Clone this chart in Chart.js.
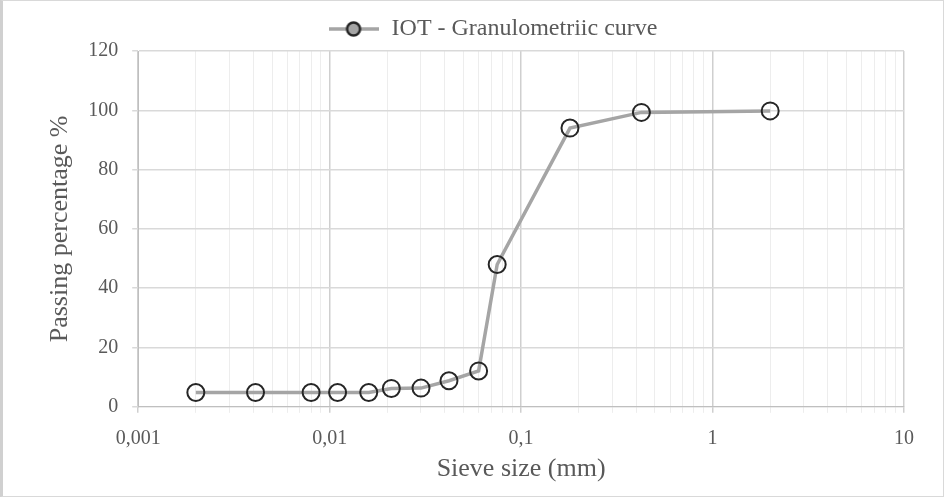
<!DOCTYPE html>
<html>
<head>
<meta charset="utf-8">
<title>IOT - Granulometriic curve</title>
<script src="https://cdn.jsdelivr.net/npm/chart.js@4/dist/chart.umd.min.js"></script>
<style>
  html, body { margin: 0; padding: 0; background: #fff; }
  #wrap {
    position: relative;
    width: 944px;
    height: 497px;
    box-sizing: border-box;
    border: 1px solid #d9d9d9;
    border-left: 3px solid #d0d0d0;
  }
</style>
</head>
<body>
<div id="wrap"><canvas id="chart"></canvas></div>
<script>
// ─── Data ────────────────────────────────────────────────────────────────────

const SERIES_NAME = 'IOT - Granulometriic curve';
const SIEVE_MM    = [0.002, 0.0041, 0.008, 0.011, 0.016, 0.021, 0.03, 0.042, 0.06, 0.075, 0.18, 0.425, 2];
const PASSING     = [4.8, 4.8, 4.8, 4.8, 4.8, 6.2, 6.3, 8.8, 12.1, 48, 94, 99.3, 99.8];
const X_DECADES   = [0.001, 0.01, 0.1, 1, 10];
const X_LABELS    = ['0,001', '0,01', '0,1', '1', '10'];
const Y_TICKS     = [0, 20, 40, 60, 80, 100, 120];

const FONT = "'Liberation Serif', 'Times New Roman', serif";
const TEXT = '#595959';

// ─── Helpers ─────────────────────────────────────────────────────────────────

// major ticks at the decades, minor ones at 2..9 of each decade
function logTicks() {
  const out = [];
  for (let i = 0; i < X_DECADES.length - 1; i++) {
    for (let k = 1; k <= 9; k++) {
      out.push({ value: parseFloat((k * X_DECADES[i]).toPrecision(6)), major: k === 1 });
    }
  }
  out.push({ value: X_DECADES[X_DECADES.length - 1], major: true });
  return out;
}

function decadeIndex(v) {
  return X_DECADES.findIndex(d => Math.abs(d - v) / d < 1e-6);
}

// legend marker: line - circle - line
function legendMarker() {
  const c = document.createElement('canvas');
  c.width = 50; c.height = 20;
  const g = c.getContext('2d');
  g.strokeStyle = '#a5a5a5';
  g.lineWidth = 3.5;
  g.beginPath(); g.moveTo(0, 10); g.lineTo(50, 10); g.stroke();
  g.fillStyle = '#a5a5a5';
  g.strokeStyle = '#262626';
  g.lineWidth = 2.5;
  g.beginPath(); g.arc(25, 10, 6.5, 0, Math.PI * 2); g.fill(); g.stroke();
  return c;
}

// ─── Chart ───────────────────────────────────────────────────────────────────

const marker = legendMarker();

new Chart(document.getElementById('chart'), {
  type: 'line',
  data: {
    datasets: [{
      label: SERIES_NAME,
      data: SIEVE_MM.map((x, i) => ({ x, y: PASSING[i] })),
      borderColor: '#a5a5a5',
      borderWidth: 3.5,
      pointRadius: 8.5,
      pointHoverRadius: 8.5,
      pointBorderWidth: 2,
      pointBorderColor: '#262626',
      pointBackgroundColor: 'rgba(255,255,255,0)',
      pointStyle: 'circle',
      tension: 0,
      fill: false
    }]
  },
  options: {
    responsive: true,
    maintainAspectRatio: false,
    animation: false,
    // extra left padding pushes the centred legend right; the y title pulls back with negative padding
    layout: { padding: { left: 78, right: 39, top: 9, bottom: 4 } },
    plugins: {
      legend: {
        position: 'top',
        labels: {
          color: TEXT,
          font: { family: FONT, size: 24 },
          usePointStyle: true,
          pointStyleWidth: 52,
          padding: 7,
          generateLabels: chart => [{
            text: SERIES_NAME,
            fontColor: TEXT,
            pointStyle: marker,
            datasetIndex: 0,
            hidden: false,
            lineWidth: 0
          }]
        }
      },
      tooltip: { enabled: false }
    },
    scales: {
      x: {
        type: 'logarithmic',
        min: X_DECADES[0],
        max: X_DECADES[X_DECADES.length - 1],
        afterBuildTicks: scale => { scale.ticks = logTicks(); },
        border: { color: '#bfbfbf', width: 1 },
        grid: {
          color: ctx => (ctx.tick && ctx.tick.major) ? '#cfcfcf' : '#ededed',
          lineWidth: ctx => (ctx.tick && ctx.tick.major) ? 1.5 : 1,
          drawTicks: true,
          tickLength: 6
        },
        ticks: {
          autoSkip: false,
          maxRotation: 0,
          color: TEXT,
          font: { family: FONT, size: 20 },
          padding: 14,
          callback: v => {
            const i = decadeIndex(v);
            return i >= 0 ? X_LABELS[i] : '';
          }
        },
        title: {
          display: true,
          text: 'Sieve size (mm)',
          color: TEXT,
          font: { family: FONT, size: 26 },
          padding: { top: -11, bottom: 7 }
        }
      },
      y: {
        min: Y_TICKS[0],
        max: Y_TICKS[Y_TICKS.length - 1],
        afterBuildTicks: scale => { scale.ticks = Y_TICKS.map(value => ({ value })); },
        border: { color: '#bfbfbf', width: 1 },
        grid: { color: '#d9d9d9', lineWidth: 1.5, tickLength: 6 },
        ticks: {
          color: TEXT,
          font: { family: FONT, size: 20 },
          padding: 14
        },
        title: {
          display: true,
          text: 'Passing percentage %',
          color: TEXT,
          font: { family: FONT, size: 26 },
          padding: { top: -36, bottom: -2 }
        }
      }
    }
  }
});
</script>
</body>
</html>
